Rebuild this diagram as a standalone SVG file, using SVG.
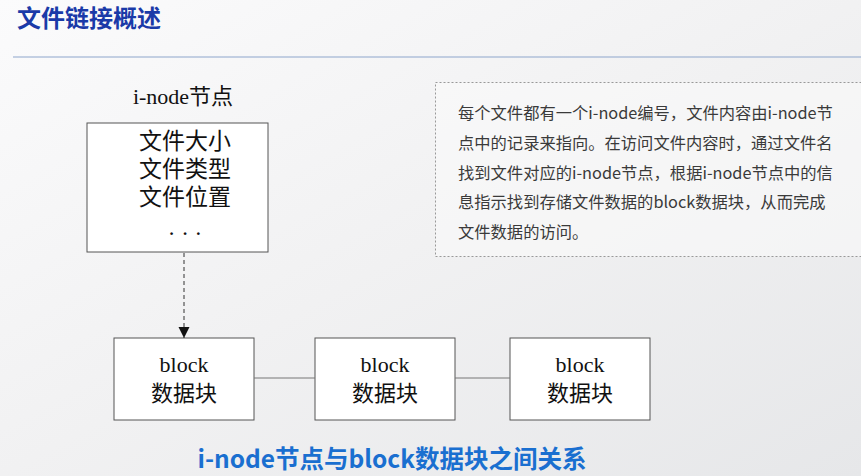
<svg xmlns="http://www.w3.org/2000/svg" width="861" height="476" viewBox="0 0 861 476">
<defs>
<linearGradient id="bg" x1="0" y1="0" x2="1" y2="1">
<stop offset="0" stop-color="#fbfbfc"/>
<stop offset="0.5" stop-color="#f1f1f2"/>
<stop offset="1" stop-color="#e6e7e9"/>
</linearGradient>
<marker id="arr" viewBox="0 0 10 10" refX="10" refY="5" markerWidth="11" markerHeight="12" markerUnits="userSpaceOnUse" orient="auto">
<path d="M0,0 L10,5 L0,10 z" fill="#111"/>
</marker>
<style>
.box{fill:#fff;stroke:#555;stroke-width:1}
.ser{font-family:"Liberation Serif","Noto Sans CJK SC",serif;fill:#111;text-anchor:middle}
.desc{font-family:"Noto Sans CJK SC","Noto Sans",sans-serif;font-size:16.3px;fill:#3a3a3a}
.link{stroke:#777;stroke-width:1;fill:none}
</style>
</defs>
<rect width="861" height="476" fill="url(#bg)"/>
<text x="17" y="27" font-family="'Noto Sans CJK SC',sans-serif" font-weight="bold" font-size="24" fill="#1a3aa8">文件链接概述</text>
<line x1="13" y1="57" x2="861" y2="57" stroke="#8ea6cc" stroke-width="1.2"/>
<g id="inode">
<text class="ser" x="183" y="104" font-size="22">i-node节点</text>
<rect class="box" x="87" y="123" width="181" height="129"/>
<text class="ser" x="185" y="149" font-size="23">文件大小</text>
<text class="ser" x="185" y="177" font-size="23">文件类型</text>
<text class="ser" x="185" y="205" font-size="23">文件位置</text>
<text class="ser" x="185" y="241" font-size="23">· · ·</text>
</g>
<g id="desc">
<rect x="435.5" y="82.5" width="430" height="174" fill="#fafafa" fill-opacity="0.6" stroke="#999" stroke-width="1" stroke-dasharray="2,2"/>
<text class="desc" x="458" y="119">每个文件都有一个i-node编号，文件内容由i-node节</text>
<text class="desc" x="458" y="149">点中的记录来指向。在访问文件内容时，通过文件名</text>
<text class="desc" x="458" y="179">找到文件对应的i-node节点，根据i-node节点中的信</text>
<text class="desc" x="458" y="208">息指示找到存储文件数据的block数据块，从而完成</text>
<text class="desc" x="458" y="238">文件数据的访问。</text>
</g>
<g id="block1">
<rect class="box" x="114" y="338" width="140" height="82"/>
<text class="ser" x="184" y="372" font-size="22">block</text>
<text class="ser" x="184" y="401" font-size="22">数据块</text>
</g>
<g id="block2">
<rect class="box" x="315" y="338" width="140" height="82"/>
<text class="ser" x="385" y="372" font-size="22">block</text>
<text class="ser" x="385" y="401" font-size="22">数据块</text>
</g>
<g id="block3">
<rect class="box" x="510" y="338" width="140" height="82"/>
<text class="ser" x="580" y="372" font-size="22">block</text>
<text class="ser" x="580" y="401" font-size="22">数据块</text>
</g>
<g id="connectors">
<line x1="184" y1="253" x2="184" y2="338" stroke="#333" stroke-width="1" stroke-dasharray="4,3" marker-end="url(#arr)"/>
<line class="link" x1="254" y1="378" x2="315" y2="378"/>
<line class="link" x1="455" y1="378" x2="510" y2="378"/>
</g>
<text x="392" y="468" text-anchor="middle" font-family="'Noto Sans CJK SC',sans-serif" font-weight="bold" font-size="24.5" fill="#1a6fd0">i-node节点与block数据块之间关系</text>
</svg>
